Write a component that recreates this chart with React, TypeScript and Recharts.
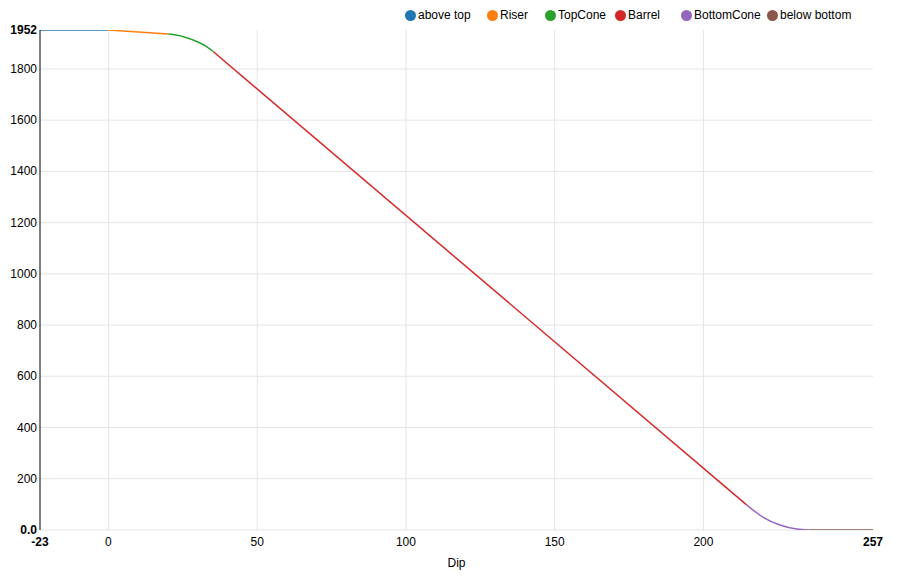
import React from "react";
import { LineChart, Line, XAxis, YAxis, CartesianGrid } from "recharts";

const colors = ["#1f77b4", "#ff7f0e", "#2ca02c", "#d62728", "#9467bd", "#8c564b"];
const seriesNames = ["above top", "Riser", "TopCone", "Barrel", "BottomCone", "below bottom"];

const aboveTopX = [-23, 0];
const aboveTopY = [1952, 1952];
const riserX = [0, 20.1];
const riserY = [1952, 1936];
const topConeX = [20.1, 25.2, 29.7, 33.0, 35.3];
const topConeY = [1936, 1926, 1907, 1887, 1867];
const barrelX = [35.3, 214.5];
const barrelY = [1867, 98];
const bottomConeX = [214.5, 220.1, 225.7, 231.4, 235.3];
const bottomConeY = [98, 49.6, 19.5, 3.9, 0];
const belowBottomX = [235.3, 257];
const belowBottomY = [0, 0];

const xTicks = [-23, 0, 50, 100, 150, 200, 257];
const yTicks = [0, 200, 400, 600, 800, 1000, 1200, 1400, 1600, 1800, 1952];
const xGrid = [0, 50, 100, 150, 200];
const yGrid = [0, 200, 400, 600, 800, 1000, 1200, 1400, 1600, 1800];

const zip = (xs: number[], ys: number[]) => xs.map((x, i) => ({ x, y: ys[i] }));

const seriesData = [
  zip(aboveTopX, aboveTopY),
  zip(riserX, riserY),
  zip(topConeX, topConeY),
  zip(barrelX, barrelY),
  zip(bottomConeX, bottomConeY),
  zip(belowBottomX, belowBottomY),
];
const curveTypes = ["linear", "linear", "monotone", "linear", "monotone", "linear"];

const legendCircleX = [411, 493, 551, 621, 687, 773];

const FONT = "'Liberation Sans', Arial, sans-serif";

const XTick = (props: any) => {
  const { x, y, payload } = props;
  const v = payload.value;
  const bold = v === -23 || v === 257;
  return (
    <text x={x} y={y} dy={16} textAnchor="middle" fontSize={12} fontFamily={FONT}
      fill="#000" fontWeight={bold ? "bold" : "normal"}>
      {String(v)}
    </text>
  );
};

const YTick = (props: any) => {
  const { x, y, payload } = props;
  const v = payload.value;
  const bold = v === 0 || v === 1952;
  return (
    <text x={x - 3} y={y} dy={4} textAnchor="end" fontSize={12} fontFamily={FONT}
      fill="#000" fontWeight={bold ? "bold" : "normal"}>
      {v === 0 ? "0.0" : String(v)}
    </text>
  );
};

export default function App() {
  return (
    <div style={{ position: "absolute", left: 0, top: 0, width: 900, height: 576, background: "#fff", fontFamily: FONT }}>
      <LineChart width={900} height={576} margin={{ top: 30, right: 27, left: 0, bottom: 0 }}>
        <CartesianGrid stroke="#e5e5e5" strokeWidth={1} verticalValues={xGrid} horizontalValues={yGrid} />
        <XAxis type="number" dataKey="x" domain={[-23, 257]} ticks={xTicks} height={46}
          axisLine={false} tickLine={false} tickSize={0} tickMargin={0} tick={<XTick />}
          allowDataOverflow interval={0}
          label={{ value: "Dip", position: "insideBottom", offset: 9, fontSize: 12, fill: "#000", fontFamily: FONT }} />
        <YAxis type="number" dataKey="y" domain={[0, 1952]} ticks={yTicks} width={40}
          axisLine={{ stroke: "#000", strokeWidth: 1 }} tickLine={false} tickSize={0} tickMargin={0}
          tick={<YTick />} allowDataOverflow interval={0} />
        {seriesData.map((d, i) => (
          <Line key={seriesNames[i]} data={d} dataKey="y" name={seriesNames[i]} type={curveTypes[i] as any}
            stroke={colors[i]} strokeWidth={1.5} dot={false} activeDot={false} isAnimationActive={false} />
        ))}
      </LineChart>
      {seriesNames.map((n, i) => (
        <div key={n} style={{ position: "absolute", left: legendCircleX[i] - 6, top: 9, height: 12, display: "flex", alignItems: "center", whiteSpace: "nowrap" }}>
          <span style={{ display: "inline-block", width: 11, height: 11, borderRadius: "50%", background: colors[i], marginRight: 2 }} />
          <span style={{ fontSize: 12, color: "#000", fontFamily: FONT }}>{n}</span>
        </div>
      ))}
    </div>
  );
}
